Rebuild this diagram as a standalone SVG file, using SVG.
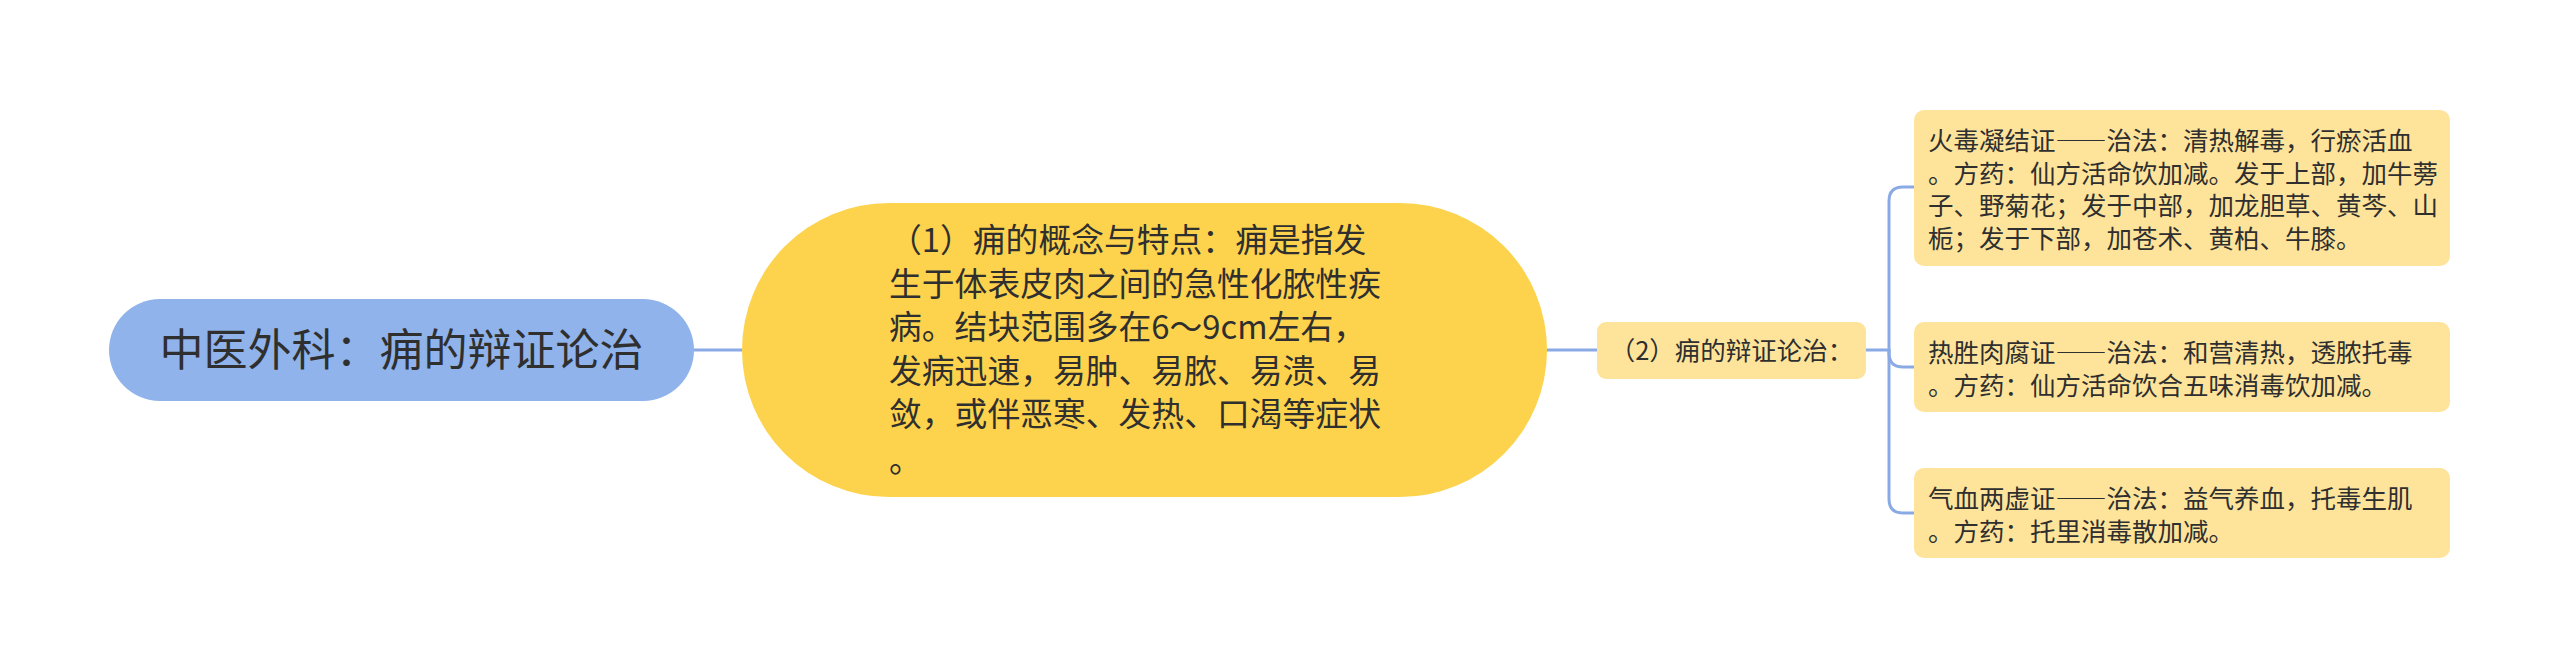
<svg xmlns="http://www.w3.org/2000/svg" width="2560" height="668" viewBox="0 0 2560 668">
<style>
.t{font-family:"Noto Sans CJK SC","Noto Sans",sans-serif;fill:#2f2f2f}
.fw{font-feature-settings:"fwid" 1}
.root{fill:#8fb3ea}
.main{fill:#fdd34d}
.sub{fill:#fee49b}
.conn{fill:none;stroke:#8aaae6;stroke-width:3;stroke-linecap:round}
</style>
<rect width="2560" height="668" fill="#ffffff"/>
<g id="connectors">
<path class="conn" d="M694,350 H742"/>
<path class="conn" d="M1547,350 H1597"/>
<path class="conn" d="M1866,350 H1889"/>
<path class="conn" d="M1889,350 V201 Q1889,187 1903,187 H1914"/>
<path class="conn" d="M1889,350 V353 Q1889,367 1903,367 H1914"/>
<path class="conn" d="M1889,350 V499 Q1889,513 1903,513 H1914"/>
</g>
<g id="root">
<rect class="root" x="109" y="299" width="585" height="102" rx="51"/>
<text class="t" x="401.5" y="365.5" font-size="44" text-anchor="middle">中医外科：痈的辩证论治</text>
</g>
<g id="concept">
<rect class="main" x="742" y="203" width="805" height="294" rx="147"/>
<text class="t" font-size="32.8">
<tspan x="889" y="252">（1）痈的概念与特点：痈是指发</tspan>
<tspan x="889" y="295.6">生于体表皮肉之间的急性化脓性疾</tspan>
<tspan x="889" y="339.2">病。结块范围多在6～9cm左右，</tspan>
<tspan x="889" y="382.8">发病迅速，易肿、易脓、易溃、易</tspan>
<tspan x="889" y="426.4">敛，或伴恶寒、发热、口渴等症状</tspan>
<tspan x="889" y="472">。</tspan>
</text>
</g>
<g id="diagnosis">
<rect class="sub" x="1597" y="322" width="269" height="57" rx="9"/>
<text class="t" x="1731.5" y="359.5" font-size="25.5" text-anchor="middle">（2）痈的辩证论治：</text>
</g>
<g id="leaf1">
<rect class="sub" x="1914" y="110" width="536" height="156" rx="10"/>
<text class="t" font-size="25.5">
<tspan x="1928" y="150">火毒凝结证<tspan class="fw">——</tspan>治法：清热解毒，行瘀活血</tspan>
<tspan x="1928" y="182.5">。方药：仙方活命饮加减。发于上部，加牛蒡</tspan>
<tspan x="1928" y="215">子、野菊花；发于中部，加龙胆草、黄芩、山</tspan>
<tspan x="1928" y="247.5">栀；发于下部，加苍术、黄柏、牛膝。</tspan>
</text>
</g>
<g id="leaf2">
<rect class="sub" x="1914" y="322" width="536" height="90" rx="10"/>
<text class="t" font-size="25.5">
<tspan x="1928" y="362">热胜肉腐证<tspan class="fw">——</tspan>治法：和营清热，透脓托毒</tspan>
<tspan x="1928" y="394.5">。方药：仙方活命饮合五味消毒饮加减。</tspan>
</text>
</g>
<g id="leaf3">
<rect class="sub" x="1914" y="468" width="536" height="90" rx="10"/>
<text class="t" font-size="25.5">
<tspan x="1928" y="508">气血两虚证<tspan class="fw">——</tspan>治法：益气养血，托毒生肌</tspan>
<tspan x="1928" y="540.5">。方药：托里消毒散加减。</tspan>
</text>
</g>
</svg>
